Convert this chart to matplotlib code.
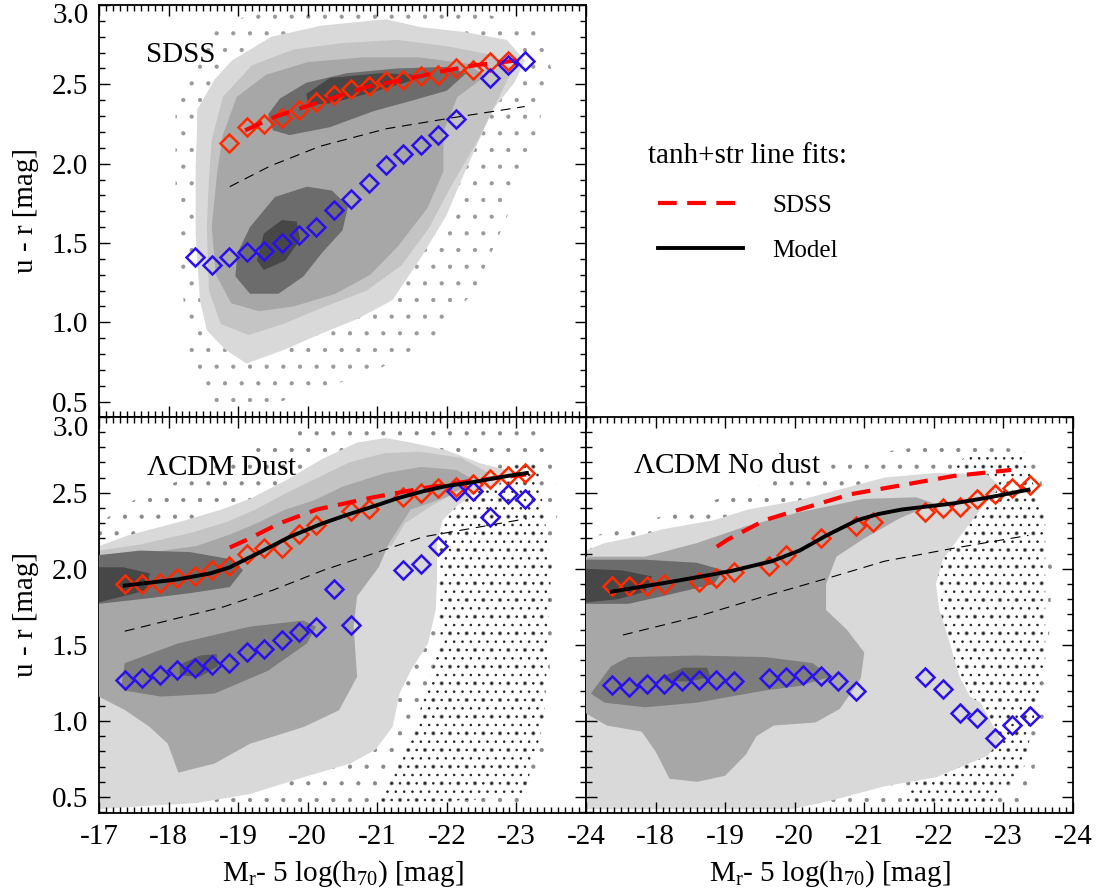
import numpy as np
import matplotlib
matplotlib.use('Agg')
import matplotlib.pyplot as plt
from matplotlib.ticker import MultipleLocator
from matplotlib.lines import Line2D
from matplotlib.transforms import offset_copy

plt.rcParams['font.family'] = ['Liberation Serif', 'DejaVu Serif']
plt.rcParams['mathtext.fontset'] = 'custom'
plt.rcParams['mathtext.rm'] = 'Liberation Serif'
plt.rcParams['mathtext.default'] = 'regular'
plt.rcParams['hatch.linewidth'] = 0.6

# ── DATA: binned colour peaks (red / blue sequences) ──
sdss_red_x = [-18.875, -19.125, -19.375, -19.625, -19.875, -20.125, -20.375, -20.625, -20.875,
              -21.125, -21.375, -21.625, -21.875, -22.125, -22.375, -22.625, -22.875]
sdss_red_y = [2.13, 2.23, 2.25, 2.29, 2.34, 2.39, 2.43, 2.47, 2.49,
              2.52, 2.53, 2.55, 2.56, 2.60, 2.59, 2.64, 2.65]
sdss_blue_x = [-18.375, -18.625, -18.875, -19.125, -19.375, -19.625, -19.875, -20.125, -20.375, -20.625,
               -20.875, -21.125, -21.375, -21.625, -21.875, -22.125, -22.625, -22.875, -23.125]
sdss_blue_y = [1.41, 1.36, 1.41, 1.44, 1.45, 1.50, 1.55, 1.60, 1.71, 1.78,
               1.88, 1.99, 2.06, 2.12, 2.18, 2.28, 2.54, 2.62, 2.65]

dust_red_x = [-17.375, -17.625, -17.875, -18.125, -18.375, -18.625, -18.875, -19.125, -19.375, -19.625, -19.875,
              -20.125, -20.625, -20.875, -21.375, -21.625, -21.875, -22.125, -22.375, -22.625, -22.875, -23.125]
dust_red_y = [1.90, 1.90, 1.905, 1.94, 1.95, 1.99, 2.02, 2.10, 2.135, 2.14, 2.23,
              2.29, 2.38, 2.39, 2.47, 2.50, 2.53, 2.54, 2.56, 2.59, 2.61, 2.63]
dust_blue_x = [-17.375, -17.625, -17.875, -18.125, -18.375, -18.625, -18.875, -19.125, -19.375, -19.625, -19.875,
               -20.125, -20.375, -20.625, -21.375, -21.625, -21.875, -22.125, -22.375, -22.625, -22.875, -23.125]
dust_blue_y = [1.27, 1.28, 1.30, 1.335, 1.35, 1.37, 1.38, 1.45, 1.47, 1.53, 1.585,
               1.62, 1.865, 1.63, 1.99, 2.03, 2.15, 2.51, 2.51, 2.34, 2.49, 2.46]

nodust_red_x = [-17.375, -17.625, -17.875, -18.125, -18.625, -18.875, -19.125, -19.625, -19.875,
                -20.375, -20.875, -21.125, -21.875, -22.125, -22.375, -22.625, -22.875, -23.125, -23.375]
nodust_red_y = [1.89, 1.89, 1.89, 1.90, 1.915, 1.94, 1.98, 2.02, 2.09,
                2.205, 2.28, 2.31, 2.375, 2.40, 2.405, 2.46, 2.49, 2.53, 2.55]
nodust_blue_x = [-17.375, -17.625, -17.875, -18.125, -18.375, -18.625, -18.875, -19.125, -19.625, -19.875, -20.125,
                 -20.375, -20.625, -20.875, -21.875, -22.125, -22.375, -22.625, -22.875, -23.125, -23.375]
nodust_blue_y = [1.235, 1.225, 1.245, 1.245, 1.26, 1.27, 1.27, 1.26, 1.28, 1.29, 1.305,
                 1.295, 1.265, 1.20, 1.29, 1.21, 1.055, 1.02, 0.885, 0.975, 1.03]

# ── DATA: fitted curves (tanh + straight line) and red/blue dividers ──
sdss_fit_top = [(-19.1, 2.21), (-19.5, 2.29), (-19.9, 2.35), (-20.4, 2.42), (-20.9, 2.49), (-21.4, 2.53),
                (-21.9, 2.58), (-22.4, 2.62), (-22.9, 2.645), (-23.1, 2.655)]
sdss_fit_dust = [(-18.88, 2.14), (-19.12, 2.19), (-19.6, 2.30), (-20.13, 2.39), (-20.94, 2.47),
                 (-21.66, 2.53), (-22.38, 2.58), (-23.14, 2.62)]
sdss_fit_nodust = [(-18.88, 2.145), (-19.03, 2.19), (-19.57, 2.32), (-20.07, 2.39), (-20.80, 2.49),
                   (-21.54, 2.55), (-22.28, 2.61), (-23.11, 2.65)]
model_fit_dust = [(-17.37, 1.89), (-18.12, 1.93), (-18.6, 1.97), (-18.88, 2.01), (-19.36, 2.12), (-19.74, 2.21),
                  (-20.22, 2.30), (-20.6, 2.36), (-20.94, 2.41), (-21.3, 2.465), (-21.66, 2.51),
                  (-22.0, 2.545), (-22.38, 2.57), (-22.8, 2.605), (-23.15, 2.63)]
model_fit_nodust = [(-17.37, 1.85), (-18.10, 1.905), (-18.6, 1.945), (-19.08, 1.985), (-19.67, 2.05),
                    (-20.07, 2.12), (-20.46, 2.22), (-20.90, 2.32), (-21.2, 2.36), (-21.54, 2.39),
                    (-22.28, 2.43), (-22.8, 2.47), (-23.36, 2.52)]
divider_top = [(-18.88, 1.855), (-19.46, 1.985), (-20.18, 2.11), (-21.13, 2.22), (-22.09, 2.29), (-23.12, 2.36)]
divider_dust = [(-17.37, 1.59), (-18.79, 1.75), (-19.5, 1.86), (-20.22, 1.99), (-21.66, 2.21), (-23.15, 2.33)]
divider_nodust = [(-17.53, 1.565), (-18.59, 1.685), (-19.57, 1.82), (-20.56, 1.95), (-21.29, 2.05),
                  (-22.28, 2.135), (-23.36, 2.22)]

# ── DATA: density contour outlines (outer -> inner) ──
sdss_l1 = [(-18.41, 2.34), (-18.66, 2.53), (-18.91, 2.65), (-19.48, 2.80), (-20.20, 2.87), (-21.12, 2.91),
           (-21.63, 2.86), (-22.25, 2.83), (-22.86, 2.78), (-23.12, 2.65), (-22.97, 2.51), (-22.66, 2.34),
           (-22.25, 1.94), (-21.99, 1.67), (-21.63, 1.41), (-21.22, 1.14), (-20.71, 1.02), (-20.20, 0.93),
           (-19.68, 0.83), (-19.12, 0.74), (-18.81, 0.83), (-18.55, 0.95), (-18.45, 1.14), (-18.39, 1.56),
           (-18.39, 1.98), (-18.41, 2.23)]
sdss_l2 = [(-18.62, 2.15), (-18.78, 2.42), (-19.2, 2.62), (-19.8, 2.72), (-20.5, 2.76), (-21.3, 2.78),
           (-22.0, 2.74), (-22.6, 2.69), (-22.95, 2.6), (-22.75, 2.42), (-22.45, 2.15), (-22.05, 1.85),
           (-21.75, 1.6), (-21.35, 1.36), (-20.85, 1.2), (-20.25, 1.1), (-19.65, 0.99), (-19.15, 0.92),
           (-18.75, 0.99), (-18.58, 1.2), (-18.55, 1.6), (-18.58, 1.9)]
sdss_l3 = [(-18.78, 2.18), (-18.98, 2.42), (-19.4, 2.56), (-20.0, 2.64), (-20.8, 2.67), (-21.6, 2.67),
           (-22.3, 2.63), (-22.55, 2.55), (-22.15, 2.42), (-21.95, 2.2), (-21.95, 1.95), (-21.72, 1.72),
           (-21.3, 1.48), (-20.9, 1.3), (-20.4, 1.18), (-19.8, 1.1), (-19.3, 1.07), (-18.9, 1.12),
           (-18.68, 1.3), (-18.62, 1.6), (-18.7, 1.95)]
sdss_l4_red = [(-19.43, 2.31), (-19.60, 2.41), (-19.98, 2.51), (-20.56, 2.57), (-21.28, 2.60), (-22.0, 2.61),
               (-22.28, 2.57), (-22.0, 2.46), (-21.52, 2.40), (-20.94, 2.33), (-20.32, 2.23), (-19.74, 2.18),
               (-19.50, 2.21)]
sdss_l5_red = [(-19.98, 2.44), (-20.32, 2.54), (-21.04, 2.57), (-21.61, 2.56), (-21.47, 2.52), (-20.85, 2.44),
               (-20.32, 2.38), (-20.01, 2.37)]
sdss_l4_blue = [(-18.99, 1.435), (-19.17, 1.60), (-19.53, 1.79), (-19.99, 1.855), (-20.35, 1.83), (-20.58, 1.73),
                (-20.5, 1.58), (-20.2, 1.435), (-19.94, 1.29), (-19.58, 1.18), (-19.17, 1.18), (-18.96, 1.29)]
sdss_l5_blue = [(-19.27, 1.39), (-19.37, 1.56), (-19.63, 1.645), (-19.84, 1.635), (-19.89, 1.52),
                (-19.68, 1.39), (-19.37, 1.33)]

dust_l1 = [(-17.0, 2.15), (-17.42, 2.22), (-18.25, 2.32), (-18.76, 2.39), (-19.17, 2.46), (-19.68, 2.58),
           (-20.20, 2.72), (-20.71, 2.83), (-21.12, 2.86), (-21.48, 2.83), (-21.99, 2.78), (-22.50, 2.69),
           (-22.97, 2.64), (-22.76, 2.56), (-22.40, 2.50), (-22.14, 2.41), (-21.94, 2.32), (-21.86, 2.17),
           (-21.86, 1.95), (-21.84, 1.73), (-21.73, 1.51), (-21.48, 1.33), (-21.32, 1.18), (-21.22, 0.96),
           (-20.97, 0.81), (-20.61, 0.72), (-19.94, 0.63), (-19.17, 0.52), (-18.40, 0.46), (-17.63, 0.44),
           (-17.0, 0.42)]
dust_l2 = [(-17.0, 2.12), (-17.6, 2.16), (-18.35, 2.24), (-18.85, 2.31), (-19.25, 2.39), (-19.7, 2.5),
           (-20.15, 2.6), (-20.6, 2.7), (-21.1, 2.76), (-21.6, 2.77), (-22.2, 2.73), (-22.6, 2.63),
           (-22.2, 2.52), (-21.8, 2.42), (-21.4, 2.3), (-21.2, 2.15), (-20.6, 2.2), (-19.0, 2.15), (-17.0, 2.05)]
dust_l3 = [(-17.0, 2.08), (-17.63, 2.10), (-18.40, 2.15), (-18.91, 2.23), (-19.27, 2.30), (-19.68, 2.39),
           (-20.09, 2.45), (-20.5, 2.54), (-21.12, 2.63), (-21.63, 2.67), (-22.14, 2.65), (-22.40, 2.58),
           (-21.99, 2.47), (-21.48, 2.39), (-21.17, 2.17), (-21.02, 2.01), (-20.71, 1.82), (-20.66, 1.62),
           (-20.71, 1.29), (-20.45, 1.07), (-19.94, 0.96), (-19.17, 0.85), (-18.66, 0.72), (-18.14, 0.66),
           (-17.99, 0.85), (-17.73, 0.96), (-17.38, 1.07), (-17.0, 1.16)]
dust_l4_red = [(-17.0, 2.09), (-17.59, 2.12), (-18.31, 2.11), (-18.93, 2.06), (-19.07, 1.99), (-18.88, 1.88),
               (-18.31, 1.84), (-17.59, 1.80), (-17.0, 1.77)]
dust_l5_red = [(-17.0, 2.01), (-17.35, 2.01), (-17.73, 1.97), (-17.69, 1.86), (-17.35, 1.82), (-17.0, 1.78)]
dust_l4_blue = [(-17.32, 1.23), (-17.37, 1.38), (-18.14, 1.51), (-19.17, 1.62), (-19.94, 1.66), (-20.12, 1.62),
                (-19.99, 1.51), (-19.43, 1.33), (-18.66, 1.18), (-17.89, 1.16), (-17.37, 1.20)]
dust_l5_blue = [(-18.16, 1.37), (-18.45, 1.43), (-18.69, 1.44), (-18.71, 1.36), (-18.45, 1.29), (-18.16, 1.30)]

nodust_l1 = [(-17.0, 2.12), (-17.27, 2.17), (-17.61, 2.20), (-18.10, 2.26), (-18.84, 2.32), (-19.33, 2.39),
             (-20.06, 2.45), (-20.80, 2.54), (-21.29, 2.60), (-22.03, 2.63), (-22.77, 2.62), (-22.96, 2.54),
             (-22.67, 2.39), (-22.37, 2.21), (-22.13, 2.06), (-22.03, 1.90), (-22.08, 1.73), (-22.23, 1.51),
             (-22.37, 1.29), (-22.52, 1.16), (-22.67, 1.12), (-22.96, 0.88), (-22.77, 0.77), (-22.03, 0.63),
             (-21.29, 0.57), (-20.55, 0.48), (-19.97, 0.42), (-17.0, 0.42)]
nodust_l3 = [(-17.0, 2.08), (-17.85, 2.08), (-18.6, 2.17), (-19.3, 2.28), (-20.05, 2.37), (-21.0, 2.46),
             (-21.75, 2.47), (-22.0, 2.43), (-21.5, 2.33), (-21.0, 2.2), (-20.6, 2.08), (-20.45, 1.9),
             (-20.45, 1.73), (-20.75, 1.6), (-21.0, 1.45), (-20.95, 1.28), (-20.65, 1.08), (-20.3, 0.99),
             (-19.7, 0.97), (-19.45, 0.9), (-19.3, 0.78), (-19.0, 0.64), (-18.6, 0.6), (-18.2, 0.62),
             (-18.0, 0.8), (-17.8, 0.93), (-17.3, 0.97), (-17.0, 1.05)]
nodust_l4_red = [(-17.0, 2.06), (-17.85, 2.06), (-18.59, 2.04), (-18.98, 1.99), (-18.84, 1.90), (-18.10, 1.82),
                 (-17.61, 1.77), (-17.0, 1.77)]
nodust_l5_red = [(-17.0, 2.0), (-17.51, 1.99), (-17.95, 1.95), (-17.85, 1.85), (-17.46, 1.80), (-17.0, 1.78)]
nodust_l4_blue = [(-17.07, 1.18), (-17.36, 1.36), (-17.61, 1.42), (-18.59, 1.43), (-19.57, 1.42), (-20.26, 1.38),
                  (-20.51, 1.29), (-20.07, 1.23), (-19.57, 1.20), (-18.59, 1.12), (-17.85, 1.09), (-17.27, 1.12)]
nodust_l5_blue = [(-18.10, 1.29), (-18.40, 1.35), (-18.74, 1.35), (-18.79, 1.29), (-18.49, 1.26), (-18.15, 1.26)]

# outlines of the regions covered by individual galaxies (drawn as dotted fill)
sdss_dots = [(-18.1, 2.4), (-18.5, 2.8), (-19.3, 2.97), (-20.5, 3.0), (-21.5, 3.0), (-22.5, 2.95), (-23.3, 2.85),
             (-23.5, 2.6), (-23.3, 2.2), (-22.9, 1.7), (-22.4, 1.2), (-21.8, 0.9), (-21.0, 0.7), (-20.0, 0.55),
             (-19.2, 0.45), (-18.6, 0.5), (-18.3, 0.8), (-18.2, 1.2), (-18.1, 1.8)]
dust_dots = [(-17.0, 0.39), (-17.0, 2.3), (-17.5, 2.45), (-18.5, 2.65), (-19.5, 2.85), (-20.5, 3.0), (-22.5, 3.0),
             (-23.4, 2.9), (-23.6, 2.5), (-23.5, 1.5), (-23.4, 0.8), (-23.0, 0.39)]
dust_dots_dense = [(-21.8, 2.6), (-23.3, 2.7), (-23.5, 2.0), (-23.4, 1.0), (-23.1, 0.5), (-21.0, 0.45),
                   (-21.5, 0.9), (-21.9, 1.5), (-21.9, 2.2)]
nodust_dots = [(-17.0, 0.39), (-17.0, 2.2), (-18.5, 2.4), (-19.5, 2.55), (-21.0, 2.75), (-22.5, 2.85),
               (-23.5, 2.75), (-23.7, 2.0), (-23.6, 1.0), (-23.3, 0.39)]
nodust_dots_dense = [(-21.9, 2.55), (-22.5, 2.75), (-23.3, 2.75), (-23.6, 2.3), (-23.6, 1.4), (-23.3, 0.7),
                     (-22.8, 0.45), (-21.5, 0.45), (-22.2, 1.0), (-22.1, 1.8)]

tick_x = [-17, -18, -19, -20, -21, -22, -23, -24]
tick_y = [0.5, 1.0, 1.5, 2.0, 2.5, 3.0]

# ── STYLE ──
RED_PT = '#ff2a00'
BLUE_PT = '#2a10f0'
FIT_RED = '#ff0000'
GREYS = {'l1': '#d9d9d9', 'l2': '#c4c4c4', 'l3': '#a7a7a7', 'l4': '#6c6c6c', 'l5': '#474747'}
FS = 21

W, H = 1096, 894
fig = plt.figure(figsize=(W / 100, H / 100), dpi=100)
ax_top = fig.add_axes([99 / W, 1 - 416.7 / H, 487 / W, 411.7 / H])
ax_bl = fig.add_axes([99 / W, 1 - 813.3 / H, 487 / W, 396.6 / H])
ax_br = fig.add_axes([586 / W, 1 - 813.3 / H, 487 / W, 396.6 / H])


def poly(ax, pts, color, z):
    xs, ys = np.array(pts).T
    ax.fill(xs, ys, color=color, lw=0, zorder=z)


def dots(ax, pts, pattern, color='#333333'):
    xs, ys = np.array(pts).T
    ax.fill(xs, ys, facecolor='none', edgecolor=color, hatch=pattern, lw=0, zorder=0.5)


def curve(ax, pts, **kw):
    xs, ys = np.array(pts).T
    ax.plot(xs, ys, **kw)


def style(ax, ylo, xlabels, ylabels):
    ax.set_xlim(-17, -24)
    ax.set_ylim(ylo, 3.0)
    ax.xaxis.set_minor_locator(MultipleLocator(0.1))
    ax.yaxis.set_minor_locator(MultipleLocator(0.1))
    ax.set_xticks(tick_x)
    ax.set_yticks(tick_y)
    ax.set_xticklabels(xlabels)
    ax.set_yticklabels(ylabels)
    ax.tick_params(which='both', direction='in', top=True, right=True, width=1.0, labelsize=FS, pad=8)
    ax.tick_params(which='major', length=8)
    ax.tick_params(which='minor', length=4.5)
    for s in ax.spines.values():
        s.set_linewidth(1.3)


def edge_label(ax, text, y, dy):
    # y tick label pulled inside the panel edge, as in the original
    ax.text(-10 / 487, y, text, fontsize=FS, ha='right', va='center',
            transform=offset_copy(ax.get_yaxis_transform(), fig=fig, x=0, y=dy, units='dots'))


# ── TOP: SDSS ──
ax = ax_top
dots(ax, sdss_dots, '.', '#9a9a9a')
poly(ax, sdss_l1, GREYS['l1'], 1)
poly(ax, sdss_l2, GREYS['l2'], 2)
poly(ax, sdss_l3, GREYS['l3'], 3)
poly(ax, sdss_l4_red, GREYS['l4'], 4)
poly(ax, sdss_l4_blue, GREYS['l4'], 4)
poly(ax, sdss_l5_red, GREYS['l5'], 5)
poly(ax, sdss_l5_blue, GREYS['l5'], 5)
curve(ax, divider_top, color='black', lw=0.8, dashes=(9, 6), zorder=7)
ax.plot(sdss_red_x, sdss_red_y, ls='none', marker='D', ms=9, mfc='none', mec=RED_PT, mew=1.8, zorder=8)
curve(ax, sdss_fit_top, color=FIT_RED, lw=3, dashes=(4.5, 2.5), zorder=9)
ax.plot(sdss_blue_x, sdss_blue_y, ls='none', marker='D', ms=9, mfc='none', mec=BLUE_PT, mew=1.8, zorder=10)
style(ax, 0.405, [''] * len(tick_x), ['%.1f' % v for v in tick_y[:-1]] + [''])
edge_label(ax, '3.0', 3.0, -11)
ax.set_ylabel('u - r [mag]', fontsize=FS, labelpad=9)
ax.text(0.097, 0.879, 'SDSS', transform=ax.transAxes, fontsize=FS, va='center', ha='left', zorder=12)

# ── BOTTOM LEFT: model with dust ──
ax = ax_bl
dots(ax, dust_dots, '.', '#8a8a8a')
dots(ax, dust_dots_dense, '..', '#222222')
poly(ax, dust_l1, GREYS['l1'], 1)
poly(ax, dust_l2, GREYS['l2'], 2)
poly(ax, dust_l3, GREYS['l3'], 3)
poly(ax, dust_l4_red, GREYS['l4'], 4)
poly(ax, dust_l4_blue, '#7d7d7d', 4)
poly(ax, dust_l5_red, GREYS['l5'], 5)
poly(ax, dust_l5_blue, '#5a5a5a', 5)
curve(ax, divider_dust, color='black', lw=0.8, dashes=(9, 6), zorder=7)
ax.plot(dust_red_x, dust_red_y, ls='none', marker='D', ms=9, mfc='none', mec=RED_PT, mew=1.8, zorder=8)
ax.plot(dust_blue_x, dust_blue_y, ls='none', marker='D', ms=9, mfc='none', mec=BLUE_PT, mew=1.8, zorder=8)
curve(ax, sdss_fit_dust, color=FIT_RED, lw=3, dashes=(4.5, 2.5), zorder=9)
curve(ax, model_fit_dust, color='black', lw=2.8, zorder=9)
style(ax, 0.393, ['%d' % v for v in tick_x], ['%.1f' % v for v in tick_y[:-1]] + [''])
edge_label(ax, '3.0', 3.0, -12)
ax.set_ylabel('u - r [mag]', fontsize=FS, labelpad=9)
ax.set_xlabel(r'M$_{\rm r}$- 5 log(h$_{70}$) [mag]', fontsize=FS, labelpad=6)
ax.text(0.097, 0.871, r'$\Lambda$CDM Dust', transform=ax.transAxes, fontsize=FS, va='center', ha='left', zorder=12)

# ── BOTTOM RIGHT: model without dust ──
ax = ax_br
dots(ax, nodust_dots, '.', '#8a8a8a')
dots(ax, nodust_dots_dense, '..', '#222222')
poly(ax, nodust_l1, GREYS['l1'], 1)
poly(ax, nodust_l3, GREYS['l3'], 3)
poly(ax, nodust_l4_red, GREYS['l4'], 4)
poly(ax, nodust_l4_blue, '#7d7d7d', 4)
poly(ax, nodust_l5_red, GREYS['l5'], 5)
poly(ax, nodust_l5_blue, '#5a5a5a', 5)
curve(ax, divider_nodust, color='black', lw=0.8, dashes=(9, 6), zorder=7)
ax.plot(nodust_red_x, nodust_red_y, ls='none', marker='D', ms=9, mfc='none', mec=RED_PT, mew=1.8, zorder=8)
ax.plot(nodust_blue_x, nodust_blue_y, ls='none', marker='D', ms=9, mfc='none', mec=BLUE_PT, mew=1.8, zorder=8)
curve(ax, sdss_fit_nodust, color=FIT_RED, lw=3, dashes=(4.5, 2.5), zorder=9)
curve(ax, model_fit_nodust, color='black', lw=2.8, zorder=9)
style(ax, 0.393, [''] + ['%d' % v for v in tick_x[1:]], [''] * len(tick_y))
ax.set_xlabel(r'M$_{\rm r}$- 5 log(h$_{70}$) [mag]', fontsize=FS, labelpad=6)
ax.text(0.0975, 0.875, r'$\Lambda$CDM No dust', transform=ax.transAxes, fontsize=FS, va='center', ha='left',
        zorder=12)

# ── LEGEND (free-standing, upper right) ──
fig.text(648 / W, 1 - 163 / H, 'tanh+str line fits:', fontsize=FS, va='baseline', ha='left')
fig.add_artist(Line2D([658 / W, 743 / W], [1 - 203 / H, 1 - 203 / H], color=FIT_RED, lw=3,
                      dashes=(4.5, 2.5), transform=fig.transFigure))
fig.add_artist(Line2D([658 / W, 743 / W], [1 - 248 / H, 1 - 248 / H], color='black', lw=2.8,
                      transform=fig.transFigure))
fig.text(772 / W, 1 - 206 / H, 'SDSS', fontsize=18, va='center', ha='left')
fig.text(772 / W, 1 - 251 / H, 'Model', fontsize=18, va='center', ha='left')

fig.savefig('out.png', dpi=100)
